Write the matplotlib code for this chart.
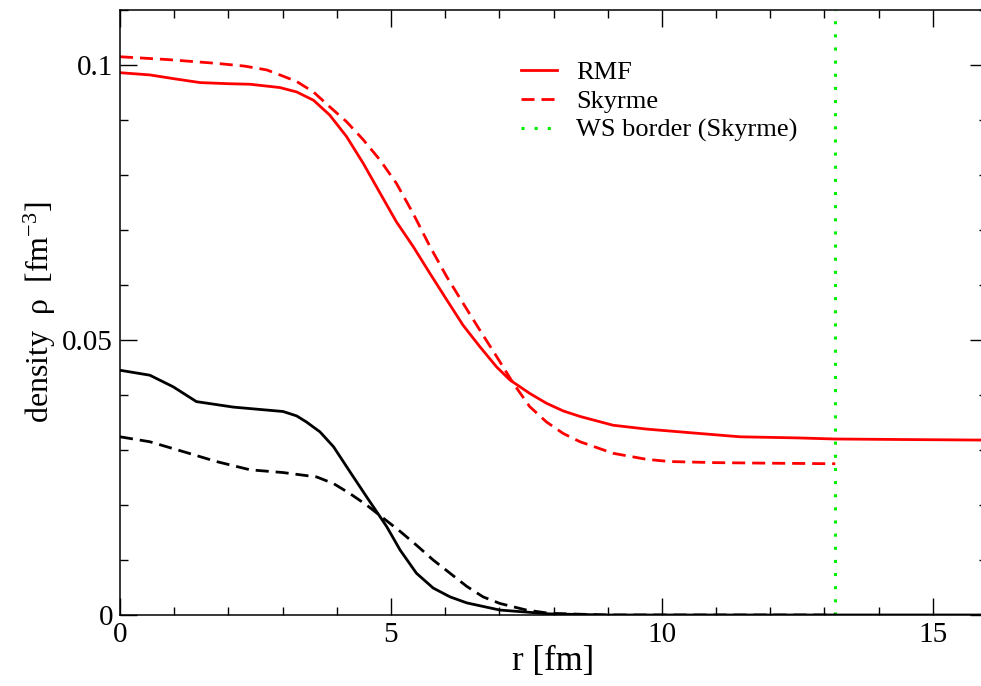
import matplotlib
matplotlib.use('Agg')
import matplotlib.pyplot as plt
from matplotlib.ticker import MultipleLocator

plt.rcParams['font.family'] = ['Liberation Serif', 'DejaVu Serif']
plt.rcParams['mathtext.fontset'] = 'custom'
plt.rcParams['mathtext.rm'] = 'Liberation Serif'
plt.rcParams['mathtext.it'] = 'Liberation Serif:italic'

# RMF, total density (red solid)
r_rmf_tot = [0, 0.55, 1.0, 1.48, 2.0, 2.4, 2.95, 3.26, 3.57, 3.87, 4.18, 4.49, 4.8, 5.1, 5.41,
             5.72, 6.03, 6.33, 6.64, 6.95, 7.2, 7.56, 7.87, 8.18, 8.49, 9.1, 9.72, 10.33, 11.44,
             12.5, 13.19, 14.5, 16.0]
rho_rmf_tot = [0.0986, 0.0982, 0.0975, 0.0968, 0.0966, 0.0965, 0.0959, 0.0951, 0.0936, 0.0909,
               0.0870, 0.0821, 0.0767, 0.0715, 0.0670, 0.0621, 0.0573, 0.0527, 0.0488, 0.0451,
               0.0427, 0.0403, 0.0385, 0.0371, 0.0361, 0.0345, 0.0338, 0.0333, 0.0324, 0.0322,
               0.0320, 0.0319, 0.0318]

# Skyrme, total density (red dashed)
r_sky_tot = [0, 0.86, 1.78, 2.3, 2.71, 2.95, 3.26, 3.57, 3.87, 4.18, 4.49, 4.8, 5.1, 5.41, 5.72,
             6.03, 6.33, 6.64, 6.95, 7.26, 7.56, 7.87, 8.18, 8.49, 9.1, 9.72, 10.15, 11.0, 12.0,
             13.2]
rho_sky_tot = [0.1015, 0.1010, 0.1003, 0.0998, 0.0991, 0.0982, 0.0970, 0.0951, 0.0924, 0.0897,
               0.0864, 0.0827, 0.0785, 0.0730, 0.0670, 0.0615, 0.0567, 0.0518, 0.0470, 0.0421,
               0.0379, 0.0351, 0.0330, 0.0315, 0.0294, 0.0283, 0.0279, 0.0277, 0.0276, 0.0275]

# RMF, proton density (black solid)
r_rmf_p = [0, 0.55, 0.98, 1.41, 2.09, 3.01, 3.26, 3.44, 3.69, 3.94, 4.24, 4.55, 4.92, 5.17,
           5.47, 5.78, 6.09, 6.4, 7.01, 7.93, 9.0, 16.0]
rho_rmf_p = [0.0445, 0.0436, 0.0415, 0.0388, 0.0378, 0.0370, 0.0362, 0.0351, 0.0333, 0.0306,
             0.0261, 0.0215, 0.0161, 0.0118, 0.0076, 0.0049, 0.0033, 0.0022, 0.0009, 0.0002,
             0.0, 0.0]

# Skyrme, proton density (black dashed)
r_sky_p = [0, 0.55, 1.17, 1.78, 2.4, 3.01, 3.63, 3.94, 4.24, 4.55, 4.86, 5.17, 5.47, 5.78,
           6.09, 6.4, 6.7, 7.01, 7.5, 7.93, 9.0, 13.2]
rho_sky_p = [0.0324, 0.0315, 0.0297, 0.0279, 0.0264, 0.0259, 0.0251, 0.0239, 0.0221, 0.0200,
             0.0176, 0.0152, 0.0127, 0.0100, 0.0076, 0.0052, 0.0033, 0.0021, 0.0009, 0.0003,
             0.0, 0.0]

ws_border = 13.2

fig = plt.figure(figsize=(9.81, 6.86), dpi=100)
ax = fig.add_axes([120/981, 71/686, 867/981, 605/686])

ax.plot(r_rmf_tot, rho_rmf_tot, color='red', lw=2, label='RMF')
ax.plot(r_sky_tot, rho_sky_tot, color='red', lw=2, dashes=(4.7, 2.5), label='Skyrme')
ax.axvline(ws_border, color='#00ee00', lw=2.2, dashes=(1, 3.3), label='WS border (Skyrme)')
ax.plot(r_rmf_p, rho_rmf_p, color='black', lw=2)
ax.plot(r_sky_p, rho_sky_p, color='black', lw=2, dashes=(4.7, 2.5))

ax.set_xlim(0, 16)
ax.set_ylim(0, 0.11)
ax.xaxis.set_minor_locator(MultipleLocator(1))
ax.yaxis.set_minor_locator(MultipleLocator(0.01))
ax.set_xticks([0, 5, 10, 15])
ax.set_xticklabels(['0', '5', '10', '15'])
ax.set_yticks([0, 0.05, 0.1])
ax.set_yticklabels(['0', '0.05', '0.1'])
ax.tick_params(which='both', direction='in', top=True, right=True, width=1, labelsize=21)
ax.tick_params(which='major', length=12, pad=5)
ax.tick_params(which='minor', length=6)
for s in ax.spines.values():
    s.set_linewidth(1.1)

ax.set_xlabel('r [fm]', fontsize=25, labelpad=-2)
ax.set_ylabel('density  ρ  [fm$^{-3}$]', fontsize=23, labelpad=3)

leg = ax.legend(loc='upper left', bbox_to_anchor=(0.435, 0.955), frameon=False, fontsize=19,
                handlelength=1.35, handletextpad=0.75, labelspacing=0.2)

plt.savefig('out.png', dpi=100)
